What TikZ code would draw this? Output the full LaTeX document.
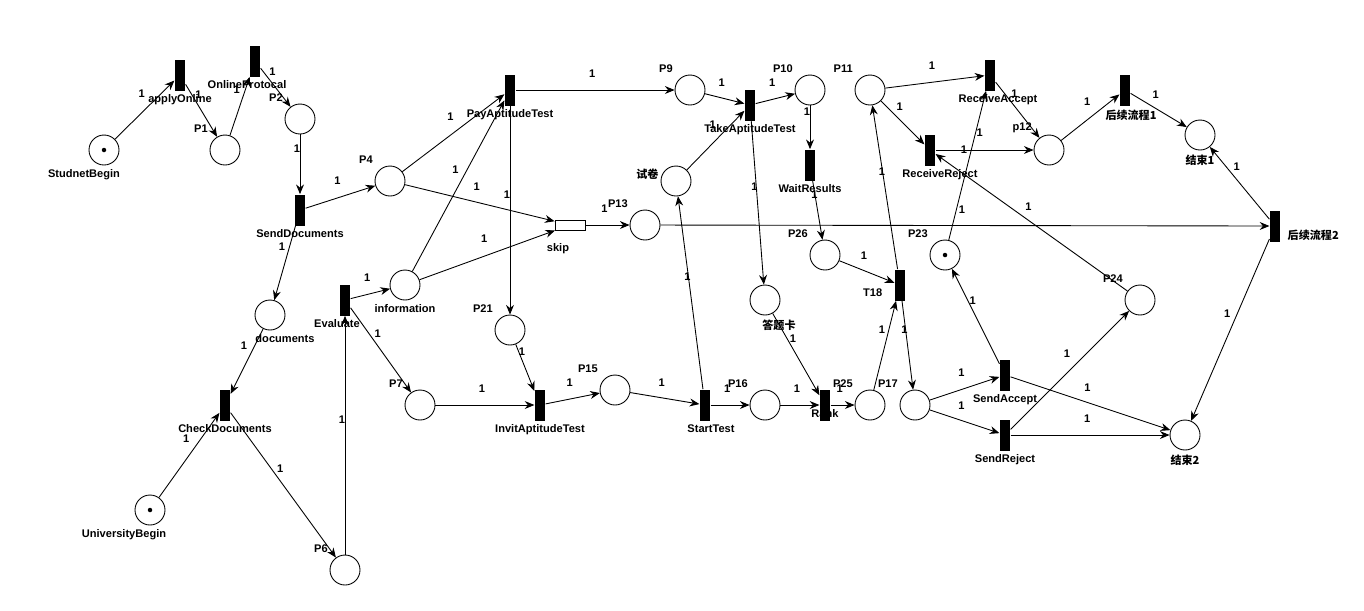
\documentclass[tikz,border=0pt]{standalone}
\usepackage{fontspec}
\setmainfont{Liberation Sans}
\newfontfamily\cjk{Noto Sans CJK SC}
\usetikzlibrary{arrows.meta, positioning}

\begin{document}
\begin{tikzpicture}[
    x=0.02cm, y=-0.02cm,
    font=\fontsize{6.3}{7}\selectfont\bfseries,
    label distance=0.04cm,
    every label/.style={inner sep=1pt},
    place/.style={circle, draw, line width=0.5pt, fill=white, minimum size=0.6cm, inner sep=0pt},
    trans/.style={rectangle, fill=black, minimum width=0.21cm, minimum height=0.62cm, inner sep=0pt},
    skipbox/.style={rectangle, draw, fill=white, line width=0.5pt, minimum width=0.6cm, minimum height=0.2cm, inner sep=0pt},
    pn/.style={label={[label distance=0.12cm]above left:#1}},
    arc/.style={line width=0.5pt, -{Stealth[length=5.5pt, width=4.5pt, inset=1.8pt]}},
    wn/.style={inner sep=0pt},
    wt/.style={wn, midway, xshift=-0.06cm, yshift=0.32cm}
]
\useasboundingbox (0,0) rectangle (1364,610);

% Places
\node[place, label={[xshift=-0.4cm]below:StudnetBegin}] (sb) at (104,150) {};
\node[place, pn=P1] (p1) at (225,150) {};
\node[place, pn=P2] (p2) at (300,119) {};
\node[place, pn=P4] (p4) at (390,181) {};
\node[place, label=below:information] (info) at (405,285) {};
\node[place, label={[xshift=0.3cm]below:documents}] (docs) at (270,315) {};
\node[place, label={[xshift=-0.52cm]below:UniversityBegin}] (uni) at (150,510) {};
\node[place, pn=P6] (p6) at (345,570) {};
\node[place, pn=P7] (p7) at (420,405) {};
\node[place, pn=P21] (p21) at (510,330) {};
\node[place, pn=P15] (p15) at (615,390) {};
\node[place, pn=P9] (p9) at (690,90) {};
\node[place, label={[label distance=0pt, yshift=0.14cm]left:{\cjk 试卷}}] (paper) at (676,181) {};
\node[place, pn=P13] (p13) at (645,225) {};
\node[place, pn=P10] (p10) at (810,90) {};
\node[place, pn=P11] (p11) at (870,90) {};
\node[place, pn=P26] (p26) at (825,255) {};
\node[place, label={[xshift=0.28cm]below:{\cjk 答题卡}}] (card) at (765,300) {};
\node[place, pn=P16] (p16) at (765,405) {};
\node[place, pn=P25] (p25) at (870,405) {};
\node[place, pn=P17] (p17) at (915,405) {};
\node[place, pn=P23] (p23) at (945,255) {};
\node[place, pn=p12] (p12) at (1049,150) {};
\node[place, label=below:{\cjk 结束1}] (end1) at (1200,135) {};
\node[place, pn=P24] (p24) at (1140,300) {};
\node[place, label=below:{\cjk 结束2}] (end2) at (1185,435) {};

% Tokens
\foreach \t in {sb, uni, p23}
    \fill (\t.center) circle[radius=0.045cm];

% Transitions
\node[trans, label=below:applyOnline] (apply) at (180,75) {};
\node[trans, label={[xshift=-0.16cm]below:OnlineProtocal}] (online) at (255,61) {};
\node[trans, label=below:PayAptitudeTest] (pay) at (510,90) {};
\node[trans, label=below:SendDocuments] (send) at (300,210) {};
\node[trans, label={[xshift=-0.16cm]below:Evaluate}] (eval) at (345,300) {};
\node[trans, label=below:CheckDocuments] (check) at (225,405) {};
\node[trans, label=below:InvitAptitudeTest] (invit) at (540,405) {};
\node[trans, label={[xshift=0.12cm]below:StartTest}] (start) at (705,405) {};
\node[skipbox, label={[xshift=-0.24cm, label distance=0.22cm]below:skip}] (skip) at (570,225) {};
\node[trans, label=below:TakeAptitudeTest] (take) at (750,105) {};
\node[trans, label=below:WaitResults] (wait) at (810,165) {};
\node[trans, label={[label distance=-0.26cm]below:Rank}] (rank) at (825,405) {};
\node[trans, label={[label distance=0.2cm, yshift=-0.16cm]left:T18}] (t18) at (900,285) {};
\node[trans, label={[xshift=0.16cm]below:ReceiveAccept}] (recvA) at (990,75) {};
\node[trans, label={[xshift=0.2cm]below:ReceiveReject}] (recvR) at (930,150) {};
\node[trans, label={[xshift=0.12cm]below:{\cjk 后续流程1}}] (follow1) at (1125,90) {};
\node[trans, label=below:SendAccept] (sendA) at (1005,375) {};
\node[trans, label=below:SendReject] (sendR) at (1005,435) {};
\node[trans, label={[label distance=0.1cm, yshift=-0.18cm]right:{\cjk 后续流程2}}] (follow2) at (1275,226) {};

% Arcs
\draw[arc] (sb) -- node[wt] {1} (apply);
\draw[arc] (apply) -- node[wt] {1} (p1);
\draw[arc] (p1) -- node[wt] {1} (online);
\draw[arc] (online) -- node[wt] {1} (p2);
\draw[arc] (p2) -- node[wt] {1} (send);
\draw[arc] (send) -- node[wt] {1} (p4);
\draw[arc] (send) -- node[wt] {1} (docs);
\draw[arc] (docs) -- node[wt] {1} (check);
\draw[arc] (uni) -- node[wt] {1} (check);
\draw[arc] (check) -- node[wt] {1} (p6);
\draw[arc] (p6) -- node[wt] {1} (eval);
\draw[arc] (eval) -- node[wt] {1} (info);
\draw[arc] (eval) -- node[wt] {1} (p7);
\draw[arc] (p4) -- node[wt] {1} (pay);
\draw[arc] (p4) -- node[wt] {1} (skip);
\draw[arc] (info) -- node[wt] {1} (pay);
\draw[arc] (info) -- node[wt] {1} (skip);
\draw[arc] (pay) -- node[wt] {1} (p9);
\draw[arc] (pay) -- node[wt] {1} (p21);
\draw[arc] (skip) -- node[wt] {1} (p13);
\draw[arc] (p7) -- node[wt] {1} (invit);
\draw[arc] (p21) -- node[wt] {1} (invit);
\draw[arc] (invit) -- node[wt] {1} (p15);
\draw[arc] (p15) -- node[wt] {1} (start);
\draw[arc] (start) -- node[wt] {1} (paper);
\draw[arc] (start) -- node[wt] {1} (p16);
\draw[arc] (p9) -- node[wt] {1} (take);
\draw[arc] (paper) -- node[wt] {1} (take);
\draw[arc] (take) -- node[wt] {1} (p10);
\draw[arc] (take) -- node[wt] {1} (card);
\draw[arc] (p10) -- node[wt] {1} (wait);
\draw[arc] (wait) -- node[wt] {1} (p26);
\draw[arc] (p16) -- node[wt] {1} (rank);
\draw[arc] (card) -- node[wt] {1} (rank);
\draw[arc] (rank) -- node[wt] {1} (p25);
\draw[arc] (p26) -- node[wt] {1} (t18);
\draw[arc] (p25) -- node[wt] {1} (t18);
\draw[arc] (t18) -- node[wt] {1} (p11);
\draw[arc] (t18) -- node[wt] {1} (p17);
\draw[arc] (p17) -- node[wt] {1} (sendA);
\draw[arc] (p17) -- node[wt] {1} (sendR);
\draw[arc] (sendA) -- node[wt] {1} (p23);
\draw[arc] (sendA) -- node[wt] {1} (end2);
\draw[arc] (sendR) -- node[wt] {1} (p24);
\draw[arc] (sendR) -- node[wt] {1} (end2);
\draw[arc] (p23) -- node[wn, pos=0.72, xshift=0.08cm] {1} (recvA);
\draw[arc] (p24) -- node[wt] {1} (recvR);
\draw[arc] (p11) -- node[wt] {1} (recvA);
\draw[arc] (p11) -- node[wt] {1} (recvR);
\draw[arc] (recvA) -- node[wt] {1} (p12);
\draw[arc] (recvR) -- node[wn, pos=0.29] {1} (p12);
\draw[arc] (p12) -- node[wt] {1} (follow1);
\draw[arc] (follow1) -- node[wt] {1} (end1);
\draw[arc] (p13) -- node[wt] {1} (follow2);
\draw[arc] (follow2) -- node[wt] {1} (end1);
\draw[arc] (follow2) -- node[wt] {1} (end2);

\end{tikzpicture}
\end{document}
